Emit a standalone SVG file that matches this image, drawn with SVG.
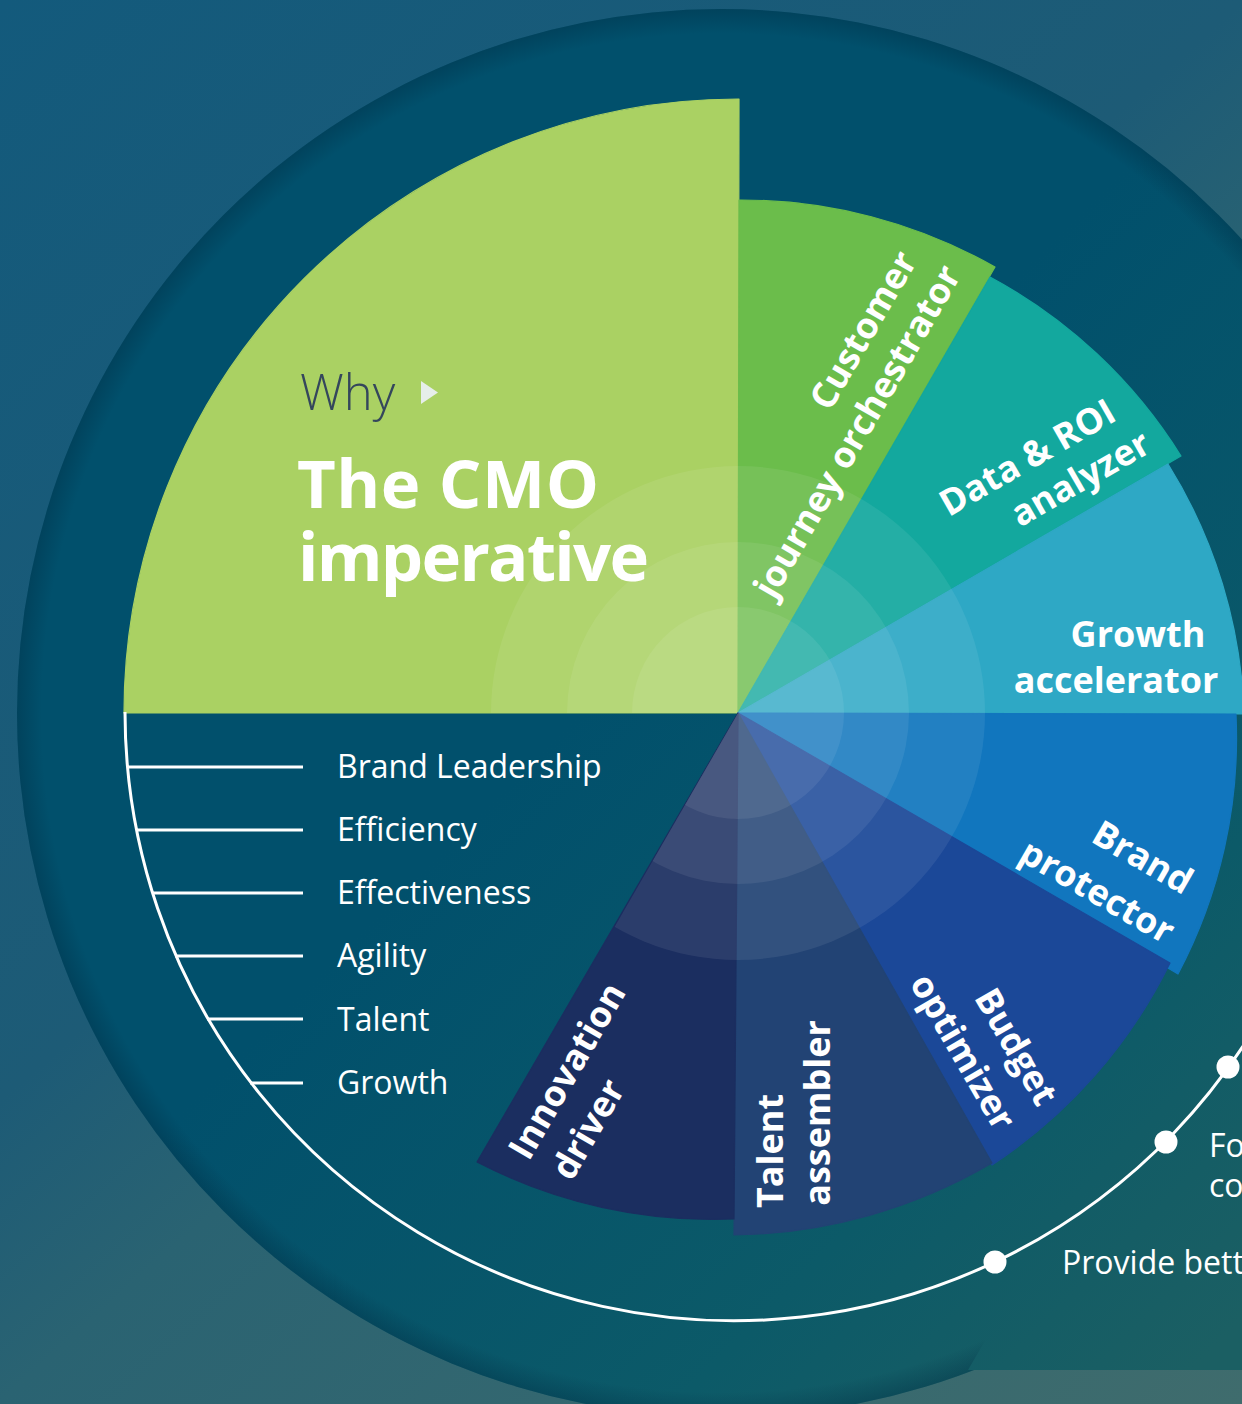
<svg xmlns="http://www.w3.org/2000/svg" width="1242" height="1404" viewBox="0 0 1242 1404">
<defs>
<linearGradient id="bg" gradientUnits="userSpaceOnUse" x1="0" y1="0" x2="1242" y2="1404">
<stop offset="0" stop-color="#135a7c"/>
<stop offset="0.44" stop-color="#1d5b76"/>
<stop offset="0.56" stop-color="#2a6372"/>
<stop offset="1" stop-color="#3f6c6d"/>
</linearGradient>
<linearGradient id="disc" gradientUnits="userSpaceOnUse" x1="17" y1="9" x2="1425" y2="1417">
<stop offset="0.45" stop-color="#01506c"/>
<stop offset="0.73" stop-color="#0c5a68"/>
<stop offset="0.9" stop-color="#1b5f63"/>
</linearGradient>
<radialGradient id="rim" gradientUnits="userSpaceOnUse" cx="721" cy="713" r="704">
<stop offset="0.965" stop-color="#002a40" stop-opacity="0"/>
<stop offset="1" stop-color="#002a40" stop-opacity="0.35"/>
</radialGradient>
<clipPath id="pieClip"><path d="M738,713 L400,713 L400,375 L1076,375 L1076,1051 L543,1051 Z"/></clipPath>
<style>
.seg{stroke-width:1.2;stroke-linejoin:round}
.lbl{font-family:"Open Sans","Liberation Sans",sans-serif;font-weight:700;font-size:36px;fill:#ffffff;text-anchor:middle}
.lst{font-family:"Open Sans","Liberation Sans",sans-serif;font-weight:400;font-size:32px;fill:#ffffff}
.ttl{font-family:"Open Sans","Liberation Sans",sans-serif;font-weight:700;font-size:67px;fill:#ffffff}
.tick{stroke:#ffffff;stroke-width:3;fill:none}
.dot{fill:#ffffff}
.ring{fill:#ffffff;fill-opacity:0.075}
</style>
</defs>

<rect x="0" y="0" width="1242" height="1404" fill="url(#bg)"/>
<circle cx="721" cy="713" r="704" fill="url(#disc)"/>
<circle cx="721" cy="713" r="704" fill="url(#rim)"/>
<path d="M968,1370 L1242,1370 L1242,1040 L1160,1040 Z" fill="url(#disc)"/>

<g id="node-cmo"><path class="seg" d="M738,713 L124,713 A614,614 0 0 1 739,99 Z" fill="#aad163" stroke="#aad163"/></g>
<g id="node-customer"><path class="seg" d="M738,713 L739,200 A514,514 0 0 1 995,267 Z" fill="#6bbd4b" stroke="#6bbd4b"/></g>
<g id="node-data"><path class="seg" d="M738,713 L990,277 A508,508 0 0 1 1181,456 Z" fill="#13a89e" stroke="#13a89e"/></g>
<g id="node-growth"><path class="seg" d="M738,713 L1168,464 A505,505 0 0 1 1244,714 Z" fill="#2ea8c5" stroke="#2ea8c5"/></g>
<g id="node-brand"><path class="seg" d="M738,713 L1236,714 A505,505 0 0 1 1178,974 Z" fill="#1176be" stroke="#1176be"/></g>
<g id="node-budget"><path class="seg" d="M738,713 L1170,963 A512,512 0 0 1 992,1165 Z" fill="#1b4898" stroke="#1b4898"/></g>
<g id="node-talent"><path class="seg" d="M738,713 L992,1163 A522,522 0 0 1 734,1235 Z" fill="#224374" stroke="#224374"/></g>
<g id="node-innovation"><path class="seg" d="M738,713 L734,1219 A512,512 0 0 1 477,1162 Z" fill="#1b2e60" stroke="#1b2e60"/></g>

<g id="rings" clip-path="url(#pieClip)">
<circle class="ring" cx="738" cy="713" r="247"/>
<circle class="ring" cx="738" cy="713" r="171"/>
<circle class="ring" cx="738" cy="713" r="106"/>
</g>

<g id="connectors">
<path class="tick" d="M125,712 A609,609 0 0 0 1286,969"/>
<line class="tick" x1="127" y1="767" x2="303" y2="767"/>
<line class="tick" x1="136" y1="830" x2="303" y2="830"/>
<line class="tick" x1="152" y1="893" x2="303" y2="893"/>
<line class="tick" x1="175" y1="956" x2="303" y2="956"/>
<line class="tick" x1="207" y1="1019" x2="303" y2="1019"/>
<line class="tick" x1="250" y1="1083" x2="303" y2="1083"/>
<circle class="dot" cx="995" cy="1262" r="11.5"/>
<circle class="dot" cx="1166" cy="1142" r="11.5"/>
<circle class="dot" cx="1228" cy="1067" r="11.5"/>
</g>

<g id="title">
<text x="300" y="410" font-family="'Open Sans','Liberation Sans',sans-serif" font-weight="300" font-size="49" fill="#34465c">Why</text>
<polygon points="421,381 438,392.5 421,404" fill="#e6eeea"/>
<text class="ttl" x="297" y="508" textLength="302" lengthAdjust="spacing">The CMO</text>
<text class="ttl" x="298" y="581" textLength="351" lengthAdjust="spacing">imperative</text>
</g>

<g id="labels">
<text class="lbl" transform="translate(862.7,330) rotate(-60)" y="13">Customer</text>
<text class="lbl" transform="translate(856.7,431) rotate(-60)" y="13">journey orchestrator</text>
<text class="lbl" transform="translate(1027,457) rotate(-30)" y="13">Data &amp; ROI</text>
<text class="lbl" transform="translate(1080,478) rotate(-30)" y="13">analyzer</text>
<text class="lbl" x="1138" y="647">Growth</text>
<text class="lbl" x="1116" y="693">accelerator</text>
<text class="lbl" transform="translate(1143,857) rotate(30)" y="13">Brand</text>
<text class="lbl" transform="translate(1097.5,891) rotate(30)" y="13">protector</text>
<text class="lbl" transform="translate(1016.8,1046.4) rotate(60)" y="13">Budget</text>
<text class="lbl" transform="translate(963.5,1051.5) rotate(60)" y="13">optimizer</text>
<text class="lbl" transform="translate(770,1151) rotate(-90)" y="13">Talent</text>
<text class="lbl" transform="translate(817,1113) rotate(-90)" y="13">assembler</text>
<text class="lbl" transform="translate(566.5,1070.5) rotate(-60)" y="13">Innovation</text>
<text class="lbl" transform="translate(587.5,1129) rotate(-60)" y="13">driver</text>
</g>

<g id="list">
<text class="lst" x="337" y="778">Brand Leadership</text>
<text class="lst" x="337" y="841">Efficiency</text>
<text class="lst" x="337" y="904">Effectiveness</text>
<text class="lst" x="337" y="967">Agility</text>
<text class="lst" x="337" y="1031">Talent</text>
<text class="lst" x="337" y="1094">Growth</text>
<text class="lst" x="1209" y="1157">Fo</text>
<text class="lst" x="1209" y="1197">co</text>
<text class="lst" x="1062" y="1274">Provide bett</text>
</g>
</svg>
